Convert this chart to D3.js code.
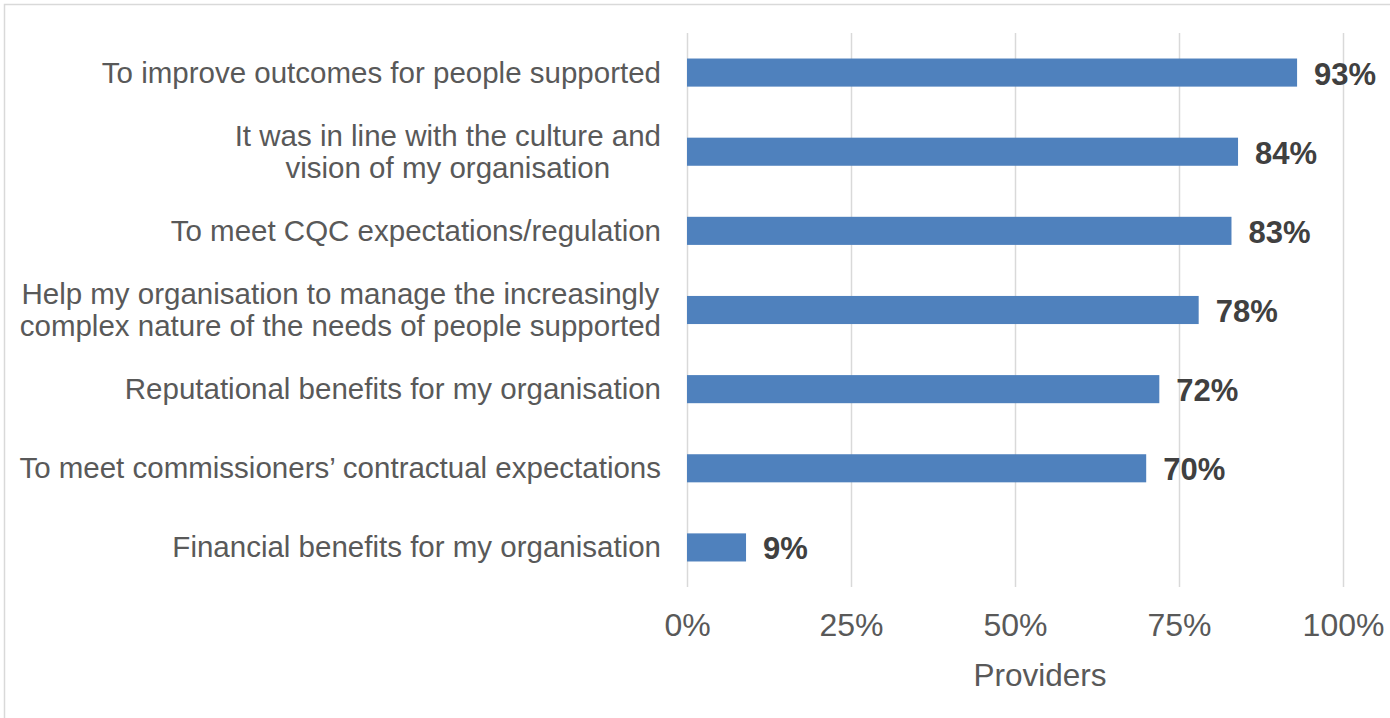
<!DOCTYPE html>
<html><head><meta charset="utf-8">
<script src="https://cdn.jsdelivr.net/npm/d3@7"></script>
<style>html,body{margin:0;padding:0;background:#fff;overflow:hidden}</style>
</head><body>
<svg id="chart" width="1390" height="718"></svg>
<script>
const categories = [
  ["To improve outcomes for people supported"],
  ["It was in line with the culture and", "vision of my organisation"],
  ["To meet CQC expectations/regulation"],
  ["Help my organisation to manage the increasingly", "complex nature of the needs of people supported"],
  ["Reputational benefits for my organisation"],
  ["To meet commissioners\u2019 contractual expectations"],
  ["Financial benefits for my organisation"]
];
const values = [93, 84, 83, 78, 72, 70, 9];
const tickValues = [0, 25, 50, 75, 100];
const axisTitle = "Providers";

const svg = d3.select("#chart");
const font = "'Liberation Sans', Arial, sans-serif";
const margin = {left: 687, right: 47, top: 33, bottom: 131};
const W = 1390, H = 718;

svg.append("rect").attr("x", 4.5).attr("y", 4.5).attr("width", W + 10).attr("height", H + 10)
  .attr("fill", "#fff").attr("stroke", "#d9d9d9").attr("stroke-width", 1.5);

const x = d3.scaleLinear().domain([0, 100]).range([margin.left, W - margin.right]);
const y = d3.scaleBand().domain(d3.range(categories.length)).range([margin.top, H - margin.bottom]).paddingInner(0.645).paddingOuter(0.3225);

const grid = svg.append("g").attr("transform", `translate(0,${margin.top})`)
  .call(d3.axisBottom(x).tickValues(tickValues).tickSize(H - margin.bottom - margin.top).tickFormat(""));
grid.select(".domain").remove();
grid.selectAll(".tick line").attr("stroke", "#d9d9d9").attr("stroke-width", 1.5);

const xa = svg.append("g").attr("transform", `translate(0,${H - margin.bottom})`)
  .call(d3.axisBottom(x).tickValues(tickValues).tickSize(0).tickPadding(0).tickFormat(d => d + "%"));
xa.select(".domain").remove();
xa.selectAll(".tick text").attr("y", 49).attr("dy", null).attr("font-family", font).attr("font-size", 32).attr("fill", "#595959");

svg.append("text").attr("x", 1040).attr("y", 686).attr("text-anchor", "middle")
  .attr("font-family", font).attr("font-size", 31.5).attr("fill", "#595959").text(axisTitle);

svg.append("g").selectAll("rect").data(values).join("rect")
  .attr("x", x(0)).attr("y", (d, i) => y(i)).attr("width", d => x(d) - x(0)).attr("height", y.bandwidth())
  .attr("fill", "#4f81bd");

svg.append("g").selectAll("text").data(values).join("text")
  .attr("x", d => x(d) + 17).attr("y", (d, i) => y(i) + y.bandwidth() / 2 + 12)
  .attr("font-family", font).attr("font-size", 31).attr("font-weight", "bold").attr("fill", "#404040")
  .text(d => d + "%");

const labelRight = 661, lineH = 32;
categories.forEach((lines, i) => {
  const cy = y(i) + y.bandwidth() / 2;
  const g = svg.append("g");
  const texts = lines.map((t, j) => g.append("text")
    .attr("y", cy + (j - (lines.length - 1) / 2) * lineH + 10)
    .attr("font-family", font).attr("font-size", 29.5).attr("fill", "#595959").text(t));
  const maxW = d3.max(texts, t => t.node().getComputedTextLength());
  texts.forEach(t => t.attr("x", labelRight - maxW / 2).attr("text-anchor", "middle"));
});
</script>
</body></html>
